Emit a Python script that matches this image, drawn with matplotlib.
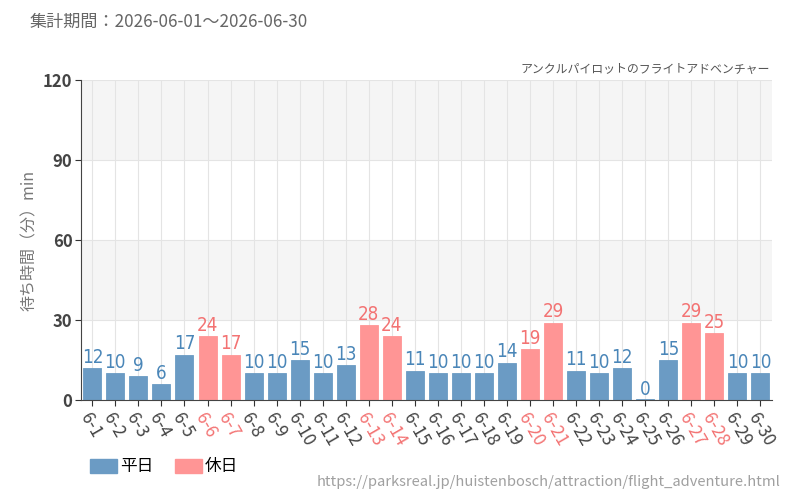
import matplotlib
matplotlib.use("Agg")
import matplotlib.pyplot as plt
from matplotlib.patches import Patch

plt.rcParams['font.family'] = ['Noto Sans CJK JP', 'DejaVu Sans']

# data
days = [f"6-{d}" for d in range(1, 31)]
waits = [12, 10, 9, 6, 17, 24, 17, 10, 10, 15, 10, 13, 28, 24, 11,
         10, 10, 10, 14, 19, 29, 11, 10, 12, 0, 15, 29, 25, 10, 10]
holidays = ["6-6", "6-7", "6-13", "6-14", "6-20", "6-21", "6-27", "6-28"]

c_week = "#6b9bc4"
c_hol = "#ff9595"
t_week = "#4a86b8"
t_hol = "#f37373"

fig = plt.figure(figsize=(8, 5), dpi=100)
ax = fig.add_axes([0.101, 0.2, 0.864, 0.64])

x = list(range(len(days)))
is_hol = [d in holidays for d in days]
cols = [c_hol if h else c_week for h in is_hol]

# background bands and grid
for lo in (30, 90):
    ax.axhspan(lo, lo + 30, color="#f5f5f5", zorder=0, lw=0)
for yy in (30, 60, 90, 120):
    ax.axhline(yy, color="#e4e4e4", lw=0.8, zorder=0.5)
for xi in x:
    ax.axvline(xi, color="#e4e4e4", lw=0.8, zorder=0.5)

# a zero bar still shows as a thin line in the original
shown = [max(v, 0.4) for v in waits]
ax.bar(x, shown, width=0.78, color=cols, edgecolor=cols, linewidth=0.6, zorder=2)

for xi, v, h in zip(x, waits, is_hol):
    ax.text(xi, v + 0.5, str(v), ha="center", va="bottom",
            fontsize=13.5, color=t_hol if h else t_week,
            family=["Liberation Sans Narrow", "DejaVu Sans"], fontstretch="condensed",
            zorder=3)

ax.set_xlim(-0.5, len(days) - 0.5)
ax.set_ylim(0, 120)
ax.set_yticks([0, 30, 60, 90, 120])
ax.tick_params(axis="y", labelsize=12, colors="#333333", length=4, pad=2)
for lab in ax.get_yticklabels():
    lab.set_fontweight("semibold")
    lab.set_color("#444444")

ax.set_xticks(x)
ax.set_xticklabels(days, rotation=-60, ha="left", rotation_mode="anchor", fontsize=12.5)
for lab, h in zip(ax.get_xticklabels(), is_hol):
    lab.set_color(t_hol if h else "#444444")
ax.tick_params(axis="x", length=4, color="#333333", pad=3)

for s in ("top", "right"):
    ax.spines[s].set_visible(False)
ax.spines["left"].set_color("#444444")
ax.spines["bottom"].set_color("#444444")

ax.set_ylabel("待ち時間（分）min", fontsize=11.5, color="#777777")
ax.yaxis.set_label_coords(-0.062, 0.5)

fig.text(30 / 800, 1 - 22 / 500, "集計期間：2026-06-01～2026-06-30",
         fontsize=12.3, color="#666666", va="center", ha="left")
fig.text(770 / 800, 1 - 69 / 500, "アンクルパイロットのフライトアドベンチャー",
         fontsize=8.6, color="#555555", va="center", ha="right")
fig.text(780 / 800, 1 - 482 / 500,
         "https://parksreal.jp/huistenbosch/attraction/flight_adventure.html",
         fontsize=10.6, color="#a0a0a0", va="center", ha="right")

handles = [Patch(color=c_week, label="平日"), Patch(color=c_hol, label="休日")]
fig.legend(handles=handles, loc="center left", bbox_to_anchor=(75 / 800, 1 - 467 / 500),
           ncol=2, frameon=False, fontsize=12, handlelength=1.6, handleheight=0.9,
           columnspacing=1.3, handletextpad=0.2)

fig.savefig("out.png", dpi=100)
